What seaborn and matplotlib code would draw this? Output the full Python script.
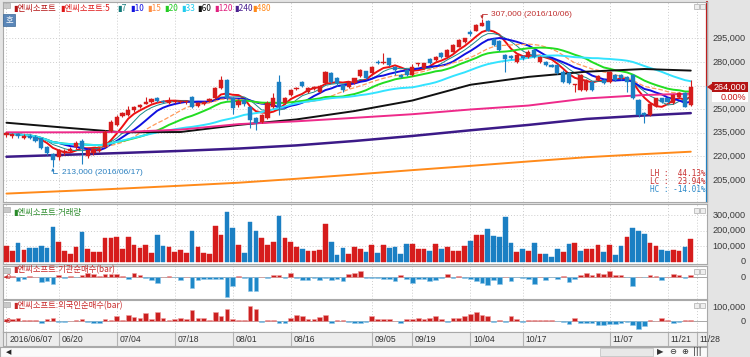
import numpy as np
import pandas as pd
import matplotlib
matplotlib.use("Agg")
import matplotlib.pyplot as plt
import seaborn as sns
from matplotlib.patches import Rectangle, Polygon
from matplotlib.lines import Line2D

W, H = 750, 357

# ---- daily candles, prices in thousand won (2016/06/07 .. 2016/11/25) ----
opens = [233.5, 233, 234, 232, 233, 232.5, 231.5, 226, 221.5, 219.5,
         222.5, 223.5, 226, 230, 220.3, 222, 223.5, 226, 236, 240,
         245.5, 246, 249.5, 251.5, 253.5, 254.5, 257, 255.5, 254, 254.5,
         254.5, 254.5, 258, 252, 253, 255, 257, 263.3, 268.5, 256.9,
         252.5, 256, 251.6, 244.2, 242, 244.2, 251.6, 267.4, 254, 259,
         262.5, 267.4, 261.1, 262.5, 261.1, 266.4, 273.2, 269.6, 265.3, 264,
         266.4, 271, 274, 272.8, 280.1, 279.1, 282.3, 277, 271.8, 274.9,
         271.7, 279, 275.9, 281.9, 281.2, 285.5, 283.3, 286.5, 289.7, 292.5,
         298.7, 299.8, 302.8, 306, 294.4, 293.5, 284.4, 283.8, 280.1, 284,
         283.3, 287.6, 280.1, 280.1, 278, 278, 273.8, 272.8, 265.3, 262.2,
         262.2, 267.4, 268.5, 268.5, 267.4, 271.7, 271.7, 270.6, 271.7, 255.8,
         247.4, 246.3, 252, 256.9, 256.9, 253.7, 257.9, 260.1, 252.6]
highs = [235.5, 235, 234.8, 234, 234, 233.5, 232, 226.5, 222, 225,
         224.5, 226, 229.5, 231, 225, 226, 226, 236.5, 243, 246,
         248.5, 252, 252, 253.5, 257.9, 257, 257.5, 256, 258, 255.8,
         256, 256, 258.5, 254.5, 255, 257, 264, 271.3, 269, 257.5,
         256.5, 256.5, 252, 245, 247, 255, 260.1, 271.7, 257.5, 263,
         264, 268, 264, 264.5, 265.5, 274.5, 273.8, 270.5, 265.8, 268,
         270, 275.5, 274.5, 277.5, 281.5, 285.5, 282.8, 277.5, 272.2, 275.3,
         279, 279.6, 279.6, 282.3, 283.8, 286, 288, 291.5, 294.5, 295.5,
         300, 304, 307, 306.5, 295, 294, 285, 284.5, 285, 284.5,
         287.5, 288, 283.8, 280.6, 278.5, 278.5, 274.9, 273.3, 266.2, 272.2,
         269, 267.9, 271.5, 269, 274.3, 272.2, 272.5, 271, 272.2, 256.3,
         248, 253.8, 257.4, 257.4, 257.4, 259.5, 260.6, 260.6, 268.5]
lows = [232.5, 232, 232, 231, 231, 229, 225, 221, 213, 218,
        221, 222.5, 225, 215.5, 219, 221, 222.5, 225.5, 235.5, 239.5,
        245, 245.5, 248.5, 250.5, 253, 254, 254.5, 254, 253.5, 254,
        254, 253.5, 251, 251.5, 252.5, 254.5, 256.5, 263, 256, 247,
        251.5, 252, 238, 236.8, 241, 243.5, 251, 246.3, 253, 258.5,
        262, 264, 260.5, 262, 260.5, 266, 266.5, 265, 261, 263.5,
        266, 270.5, 269, 272, 278.5, 278.5, 277.5, 271.7, 270, 271.2,
        271.2, 277.5, 275.5, 278.5, 280.5, 282.8, 283, 286, 289.2, 292,
        296.5, 299.5, 302.5, 299.5, 290.2, 287, 273.8, 281.8, 279.5, 281.5,
        282.8, 282.8, 279.5, 277.5, 276.5, 272.3, 266.4, 265.9, 261.1, 261.7,
        261.7, 261.7, 268, 265.9, 266.9, 268, 268.5, 261.1, 256.4, 245.2,
        241, 245.8, 251.5, 254.2, 254.2, 253.2, 257.4, 251.1, 252.1]
closes = [234.7, 234, 233, 232.8, 232, 230, 225.5, 222, 217.7, 224,
          223.5, 225, 228.5, 225, 224, 224.5, 225, 235.7, 242, 245.2,
          247.4, 249.5, 251.2, 252.6, 254.8, 256.3, 255.5, 254.8, 255.5, 255,
          255.3, 255.5, 251.6, 254, 254.5, 256.5, 263.3, 268.5, 256.9, 250.5,
          255.5, 253, 243.1, 241.5, 246.3, 254.1, 257, 251.6, 256.9, 262.2,
          263.3, 264.5, 263.3, 263.9, 264.7, 273.8, 267.4, 266.4, 262.2, 267.4,
          269.6, 274.9, 269.6, 277, 279.1, 280.1, 278, 274.9, 270.6, 271.7,
          277, 279.5, 279.1, 279.1, 283.3, 283.3, 287.6, 290.7, 293.9, 295,
          298, 303.4, 304.9, 299.8, 290.7, 287.6, 281.7, 282.3, 284.4, 282.8,
          286.5, 283.3, 283.3, 278, 277, 272.8, 267.4, 266.4, 266, 271.7,
          268.5, 262.2, 271, 266.4, 273.8, 268.5, 269.6, 267.4, 256.9, 246.3,
          246.3, 253.3, 256.9, 254.7, 254.7, 259, 260.1, 251.6, 264]

# volume (thousand shares) and its bar colour (r = up, b = down)
volume = [100, 68, 118, 75, 88, 88, 100, 85, 224, 127,
          70, 51, 96, 194, 83, 60, 60, 153, 153, 157,
          79, 161, 105, 88, 105, 53, 170, 100, 96, 64,
          75, 56, 200, 92, 56, 47, 228, 170, 319, 215,
          105, 57, 254, 200, 150, 105, 127, 293, 150, 127,
          92, 83, 70, 66, 75, 245, 127, 44, 88, 49,
          92, 79, 62, 105, 57, 105, 88, 96, 51, 114,
          114, 83, 79, 70, 114, 79, 92, 70, 66, 100,
          131, 170, 170, 211, 166, 157, 291, 122, 62, 79,
          66, 122, 49, 49, 31, 83, 62, 114, 118, 70,
          83, 83, 109, 62, 105, 44, 100, 157, 217, 200,
          181, 122, 100, 75, 70, 75, 70, 92, 146]
volume_dir = ("rrbrbbbbbr" "rrrbrrrrrr" "rrrrrrbbrr" "rrbrrrrrbb" "rbbbrrrbrr"
              "rbrrrrbbbr" "rrbrbrbbbb" "rrrbrbrrrr" "brrbbbbbrb" "rbrbbbrbrb"
              "rrrbrbbrbb" "brrbbrrbr")

# net buying, thousand shares
inst_net = [4, 4, -16, -8, 4, 1, -20, -16, -28, 8, -4, 4, -1, 8, 16, 12, 4, 12, 12, 12,
            4, -8, 16, 8, -4, -12, -24, 1, 4, -1, -12, 1, -44, -12, -8, -8, -8, -8, -80, -36,
            4, -4, -56, -56, 1, -4, 8, 8, -4, 16, -4, -12, -12, -4, -12, -4, -12, -8, -16, 12,
            16, 24, -4, -4, -4, -8, -8, -16, 8, -8, -24, -8, -8, -16, -12, -4, 12, -4, 4, -4,
            -8, -16, -24, -32, -12, -28, 1, -16, -1, -4, -8, -28, 1, -12, -1, -8, 4, -20, -8, 8,
            16, 8, 16, 12, 24, 8, 8, -1, -36, 1, -1, 8, 4, -12, 1, 12, 8, -4, 8]
foreign_net = [15, 15, 22, 7, 7, 7, -15, 15, 22, -7, -7, 1, 7, 15, -7, -15, -15, 15, 7, 37,
               7, 44, 29, 22, 59, 15, 66, 22, 7, 15, 22, 15, 81, 22, 22, 7, 66, 37, 88, 15,
               7, 7, 110, 88, -7, 7, 7, -15, -15, 22, 44, 37, 15, 15, 29, 44, -15, 7, 7, -7,
               -15, -15, -7, 37, 15, 15, 15, 1, -15, 15, 15, 22, 15, 22, 37, 15, -7, 22, 22, 37,
               51, 66, 44, 37, -7, 7, -7, 37, 15, -7, 7, 7, 7, 7, 7, -1, -7, -22, 22, -15,
               -15, -15, -29, -29, -22, -22, -15, -7, -29, -59, -37, 7, 1, 22, 7, -15, -7, 7, 7]

# long moving averages (thousand won)
ma_idx = [0, 10, 20, 30, 40, 50, 60, 70, 80, 90, 100, 110, 118]
ma60 = [241.4, 238.3, 235.3, 235.5, 240.0, 243.5, 248.8, 255.5, 265.5, 270.5, 273.8, 275.5, 274.5]
ma120 = [235.3, 235.3, 235.5, 237.0, 240.5, 242.3, 244.5, 246.8, 249.8, 252.3, 256.8, 259.0, 259.8]
ma240 = [219.8, 221.0, 222.2, 223.5, 225.0, 227.0, 229.8, 233.0, 236.6, 240.0, 243.8, 246.0, 247.5]
ma480 = [196.4, 198.0, 199.6, 201.4, 203.3, 205.8, 208.5, 211.3, 214.0, 216.8, 219.5, 221.5, 223.0]

tick_idx = [0, 9, 19, 29, 39, 49, 63, 70, 80, 89, 104, 114, 119]
tick_lab = ["2016/06/07", "06/20", "07/04", "07/18", "08/01", "08/16", "09/05",
            "09/19", "10/04", "10/17", "11/07", "11/21", "11/28"]
price_ticks = [205, 220, 235, 250, 265, 280, 295]
vol_ticks = [0, 100, 200, 300]

RED, BLUE = "#d61c1c", "#1b7fc3"
NUM = ["Liberation Sans", "DejaVu Sans"]

sns.set_theme(style="white")
plt.rcParams["font.family"] = ["Noto Sans CJK KR", "DejaVu Sans"]

fig = plt.figure(figsize=(7.5, 3.57), dpi=100)
fig.patch.set_facecolor("#e4e4e4")


def box(x0, y0, x1, y1):
    return [x0 / W, 1 - y1 / H, (x1 - x0) / W, (y1 - y0) / H]


def fx(px):
    return px / W


def fy(py):
    return 1 - py / H


ax_p = fig.add_axes(box(3, 2, 707, 202))
ax_v = fig.add_axes(box(3, 204, 707, 264))
ax_i = fig.add_axes(box(3, 266, 707, 299))
ax_f = fig.add_axes(box(3, 300, 707, 332))
ax_d = fig.add_axes(box(3, 332, 707, 346))
ax_s = fig.add_axes(box(0, 347, 707, 357))
panels = [ax_p, ax_v, ax_i, ax_f]

n = len(closes)
x = np.arange(n)
o, hi, lo, c = map(np.array, (opens, highs, lows, closes))
cols = np.where(c >= o, RED, BLUE)

# moving averages
cs = pd.Series(c)
short_ma = [(5, "#ee1111", 1.4, "-"), (7, "#1a8a8a", 0.7, "-"), (10, "#1010e0", 1.4, "-"),
            (15, "#ff9a5a", 0.9, "--"), (20, "#22dd22", 1.4, "-"), (33, "#33e3ff", 1.4, "-")]
for w, col, lw, ls in short_ma:
    sns.lineplot(x=x, y=cs.rolling(w, min_periods=1).mean().values, ax=ax_p,
                 color=col, lw=lw, linestyle=ls, zorder=2)
long_ma = [(ma60, "#111111", 1.4), (ma120, "#ee2a8a", 1.4), (ma240, "#3c1a88", 1.8),
           (ma480, "#ff8a1a", 1.4)]
for vals, col, lw in long_ma:
    sns.lineplot(x=ma_idx, y=vals, ax=ax_p, color=col, lw=lw, zorder=2)

# candles
ax_p.vlines(x, lo, hi, colors=cols, lw=0.8, zorder=3)
ax_p.bar(x, np.maximum(np.abs(c - o), 0.35), bottom=np.minimum(o, c), width=0.72,
         color=cols, edgecolor=cols, lw=0.3, zorder=4)

# volume and net buying bars
vcols = [RED if d == "r" else BLUE for d in volume_dir]
ax_v.bar(x, volume, width=0.8, color=vcols, edgecolor=vcols, lw=0.3, zorder=3)
for ax, vals in ((ax_i, inst_net), (ax_f, foreign_net)):
    v = np.array(vals)
    bc = np.where(v >= 0, "#cc2020", "#1e88c8")
    ax.bar(x, v, width=0.8, color=bc, edgecolor=np.where(v >= 0, "#f0a0a0", "#90c8ea"),
           lw=0.4, zorder=3)
    ax.axhline(0, color="#9a9a9a", lw=0.6, zorder=2)

for ax in panels + [ax_d, ax_s]:
    ax.set_xlim(-0.6, 120.8)
    ax.set_xticks([])
    ax.set_yticks([])
    ax.set_xlabel("")
    ax.set_ylabel("")
    ax.set_facecolor("white")
    for s in ax.spines.values():
        s.set_color("#a9a9a9")
        s.set_linewidth(0.8)
for ax in panels:
    for t in tick_idx:
        ax.axvline(t, color="#cdcdcd", lw=0.7, ls=(0, (1, 2)), zorder=0)

ax_p.set_ylim(191.06, 318.05)
ax_v.set_ylim(-16.2, 373.4)
ax_i.set_ylim(-88, 44)
ax_f.set_ylim(-78.6, 156.6)
for p in price_ticks:
    ax_p.axhline(p, color="#cdcdcd", lw=0.7, ls=(0, (1, 2)), zorder=0)
for v in vol_ticks[1:]:
    ax_v.axhline(v, color="#cdcdcd", lw=0.7, ls=(0, (1, 2)), zorder=0)

# right-hand scale labels
XR = 1 + 39 / 704


def right_labels(ax, vals, fmt):
    tr = ax.get_yaxis_transform()
    for v in vals:
        ax.text(XR, v, fmt(v), transform=tr, ha="right", va="center", fontsize=6.6,
                color="#3a3a3a", family=NUM, clip_on=False)


right_labels(ax_p, [p for p in price_ticks if p != 265], lambda v: f"{v * 1000:,.0f}")
right_labels(ax_v, vol_ticks, lambda v: f"{v * 1000:,.0f}")
right_labels(ax_i, [0], lambda v: "0")
right_labels(ax_f, [0, 100], lambda v: f"{v * 1000:,.0f}")

# current price marker
last = closes[-1]
tr = ax_p.get_yaxis_transform()
ax_p.add_line(Line2D([1.0, 1.0], [last, 318.05], transform=tr, color="#c01818", lw=1.6, clip_on=False))
ax_p.add_line(Line2D([1.0, 1.0], [191.06, last], transform=tr, color="#1b7fc3", lw=1.6, clip_on=False))
fig.patches.append(Polygon([(fx(707), fy(87)), (fx(712), fy(83.5)), (fx(712), fy(90.5))],
                           closed=True, transform=fig.transFigure, fc="#c01818", ec="none"))
fig.patches.append(Rectangle((fx(712), fy(92)), 36 / W, 10 / H, transform=fig.transFigure,
                             fc="#b41414", ec="none"))
fig.patches.append(Rectangle((fx(712), fy(102)), 36 / W, 10 / H, transform=fig.transFigure,
                             fc="white", ec="none"))
fig.text(fx(746), fy(87), f"{last * 1000:,.0f}", ha="right", va="center", fontsize=6.5,
         color="white", family=NUM)
fig.text(fx(746), fy(97), "0.00%", ha="right", va="center", fontsize=6.5,
         color="#c81818", family=NUM)

# high / low annotations
i_hi = int(np.argmax(hi))
i_lo = int(np.argmin(lo))
ax_p.annotate("307,000 (2016/10/06)", xy=(i_hi, hi[i_hi] + 0.3), xytext=(i_hi + 1.6, 310.4),
              fontsize=6, color="#c03030", family=NUM, ha="left", va="center",
              arrowprops=dict(arrowstyle="-|>", mutation_scale=4, color="#c03030", lw=0.6,
                              connectionstyle="angle,angleA=0,angleB=90,rad=0",
                              shrinkA=1, shrinkB=0))
ax_p.annotate("213,000 (2016/06/17)", xy=(i_lo, lo[i_lo] - 0.3), xytext=(i_lo + 1.6, 209.5),
              fontsize=6, color="#2a80c0", family=NUM, ha="left", va="center",
              arrowprops=dict(arrowstyle="-|>", mutation_scale=4, color="#2a80c0", lw=0.6,
                              connectionstyle="angle,angleA=0,angleB=90,rad=0",
                              shrinkA=1, shrinkB=0))

lh = (hi.max() / lo.min() - 1) * 100
lc = (last / lo.min() - 1) * 100
hc = (last / hi.max() - 1) * 100
for yy, s, col in ((173, f"LH : {lh:6.2f}%", "#c83030"), (181, f"LC : {lc:6.2f}%", "#c83030"),
                   (189, f"HC : {hc:6.2f}%", "#2a88c8")):
    fig.text(fx(705), fy(yy), s, ha="right", va="center", fontsize=5.6, color=col,
             family="DejaVu Sans Mono")

# header legend
header = [(13, "▮엔씨소프트", "#b41414"), (60, "▮엔씨소프트:5", "#e01818"), (117, "▮7", "#127a7a"),
          (130, "▮10", "#1414e0"), (147, "▮15", "#ff8c40"), (164, "▮20", "#22cc22"),
          (181, "▮33", "#22ccee"), (197, "▮60", "#111111"), (214, "▮120", "#e0207f"),
          (234, "▮240", "#4a2090"), (252, "▮480", "#ff8a1a")]
for px, s, col in header:
    fig.text(fx(px), fy(8), s, ha="left", va="center", fontsize=6, color=col)
fig.text(fx(13), fy(212), "▮엔씨소프트:거래량", ha="left", va="center", fontsize=6, color="#2a8a2a")
fig.text(fx(13), fy(270), "▮엔씨소프트:기관순매수(bar)", ha="left", va="center", fontsize=6, color="#c82828")
fig.text(fx(13), fy(305.5), "▮엔씨소프트:외국인순매수(bar)", ha="left", va="center", fontsize=6, color="#c82828")
for yy in (277, 321):
    fig.text(fx(4), fy(yy), "◂0", ha="left", va="center", fontsize=5, color="#c82828", family="DejaVu Sans")

# small panel icons
for top in (3, 207, 268, 302):
    fig.patches.append(Rectangle((fx(3), fy(top + 5)), 7 / W, 5 / H, transform=fig.transFigure,
                                 fc="#c9c9c9", ec="#a0a0a0", lw=0.4))
    for left in (694, 700):
        fig.patches.append(Rectangle((fx(left), fy(top + 6)), 5 / W, 5 / H, transform=fig.transFigure,
                                     fc="#eeeeee", ec="#9a9a9a", lw=0.4))
fig.patches.append(Rectangle((fx(3), fy(26)), 12 / W, 12 / H, transform=fig.transFigure,
                             fc="#5a86b8", ec="#3d6896", lw=0.5))
fig.text(fx(9), fy(20), "호", ha="center", va="center", fontsize=6, color="white")

# date strip
ax_d.set_facecolor("#ededed")
for t, lab in zip(tick_idx, tick_lab):
    ax_d.axvline(t, color="#b4b4b4", lw=0.8)
    ax_d.text(t + 0.45, 0.45, lab, transform=ax_d.get_xaxis_transform(), ha="left", va="center",
              fontsize=6.2, color="#333333", family=NUM, clip_on=False)

# scroll bar row
ax_s.set_facecolor("#fafafa")
ax_s.text(0.008, 0.5, "◀", transform=ax_s.transAxes, ha="left", va="center", fontsize=5,
          color="#222222", family="DejaVu Sans")
fig.patches.append(Rectangle((fx(600), fy(356)), 53 / W, 8 / H, transform=fig.transFigure,
                             fc="#e8e8e8", ec="#b0b0b0", lw=0.4))
for px, s in ((660, "▶"), (673, "⊖"), (685, "⊕"), (697, "|||")):
    fig.text(fx(px), fy(352), s, ha="center", va="center", fontsize=6, color="#333333",
             family="DejaVu Sans")

fig.savefig("out.png", dpi=100, facecolor=fig.get_facecolor())
